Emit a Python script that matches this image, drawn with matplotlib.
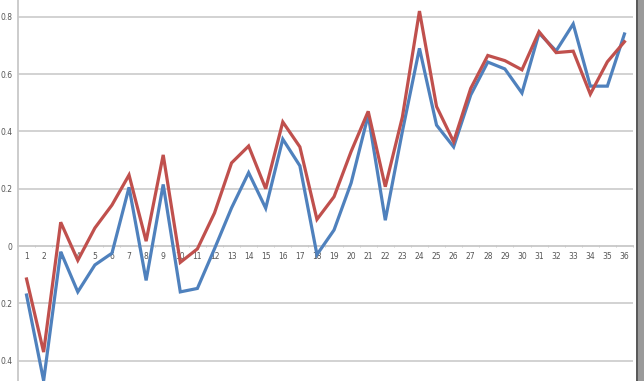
import numpy as np
import matplotlib.pyplot as plt
from matplotlib.patches import Rectangle
from matplotlib.ticker import FuncFormatter

categories = [str(i) for i in range(1, 37)]

red_vals = [-0.115, -0.37, 0.083, -0.05, 0.063, 0.143, 0.248, 0.017, 0.318, -0.057,
            -0.01, 0.115, 0.29, 0.349, 0.2, 0.433, 0.346, 0.093, 0.172, 0.33,
            0.47, 0.207, 0.45, 0.82, 0.487, 0.364, 0.55, 0.665, 0.647, 0.615,
            0.748, 0.675, 0.68, 0.53, 0.643, 0.713]

blue_vals = [-0.171, -0.47, -0.02, -0.16, -0.066, -0.025, 0.205, -0.12, 0.215, -0.16,
             -0.148, -0.01, 0.133, 0.256, 0.132, 0.373, 0.28, -0.03, 0.056, 0.22,
             0.457, 0.09, 0.40, 0.69, 0.422, 0.346, 0.527, 0.642, 0.618, 0.534,
             0.743, 0.681, 0.775, 0.558, 0.558, 0.74]

y_ticks = [-0.4, -0.2, 0, 0.2, 0.4, 0.6, 0.8]

W, H = 644, 381
fig = plt.figure(figsize=(W / 100, H / 100), dpi=100)
ax = fig.add_axes([18 / W, 0, 615 / W, 1])

x = np.arange(1, len(categories) + 1)
ax.plot(x, blue_vals, color='#4F81BD', lw=2.3, solid_joinstyle='miter', zorder=3)
ax.plot(x, red_vals, color='#C0504D', lw=2.3, solid_joinstyle='miter', zorder=3)

ax.set_xlim(0.5, 36.5)
ax.set_ylim(-0.471, 0.8586)

# gridlines
for t in y_ticks:
    if t != 0:
        ax.axhline(t, color='#cfcfcf', lw=1.3, zorder=1)

for s in ['top', 'right']:
    ax.spines[s].set_visible(False)
ax.spines['left'].set_color('#c8c8c8')
ax.spines['left'].set_linewidth(1.3)
ax.spines['bottom'].set_position(('data', 0))
ax.spines['bottom'].set_color('#c8c8c8')
ax.spines['bottom'].set_linewidth(1.3)

ax.set_xticks(x)
ax.set_xticklabels(categories)
ax.set_xticks(np.arange(0.5, 37, 1), minor=True)
ax.tick_params(axis='x', which='major', length=0, pad=4, labelsize=5.5, labelcolor='#555555')
ax.tick_params(axis='x', which='minor', length=2, direction='inout', color='#c0c0c0')

ax.set_yticks(y_ticks)
ax.yaxis.set_major_formatter(FuncFormatter(lambda v, p: '0' if abs(v) < 1e-9 else f'{abs(v):.1f}'))
ax.tick_params(axis='y', length=0, pad=4, labelsize=5.5, labelcolor='#555555')

# dark frame on the right edge
fig.patches.append(Rectangle((636 / W, 0), 2 / W, 1, transform=fig.transFigure,
                             facecolor='#5a5a5a', edgecolor='none'))
fig.patches.append(Rectangle((638 / W, 0), 6 / W, 1, transform=fig.transFigure,
                             facecolor='#9a9a9a', edgecolor='none'))

fig.savefig('out.png', dpi=100)
